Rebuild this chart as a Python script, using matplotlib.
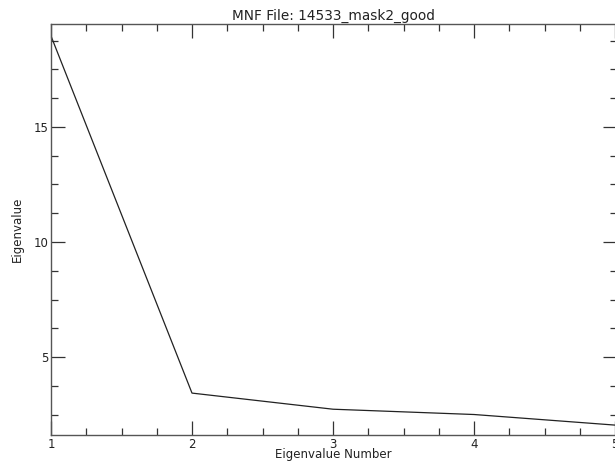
import numpy as np
import matplotlib.pyplot as plt
from matplotlib.ticker import MultipleLocator

# eigenvalues
eig_num = [1, 2, 3, 4, 5]
eig_val = [18.95, 3.44, 2.74, 2.51, 2.05]
title = "MNF File: 14533_mask2_good"

W, H = 615, 461
fig = plt.figure(figsize=(W / 100, H / 100), dpi=100)
left, right, top, bottom = 51, 616.5, 24, 435
ax = fig.add_axes([left / W, 1 - bottom / H, (right - left) / W, (bottom - top) / H])

ax.plot(eig_num, eig_val, color='#222222', linewidth=0.9)

ax.set_xlim(1, 5 + 1.5 / 141)
ax.set_ylim(1.62, 19.47)
ax.xaxis.set_major_locator(MultipleLocator(1))
ax.xaxis.set_minor_locator(MultipleLocator(0.25))
ax.yaxis.set_major_locator(MultipleLocator(5))
ax.yaxis.set_minor_locator(MultipleLocator(1.25))

ax.tick_params(which='both', direction='in', top=True, right=True,
               color='#333333', labelsize=8.5, pad=2, labelcolor='#222222')
ax.tick_params(which='major', length=10, width=0.9)
ax.tick_params(which='minor', length=5, width=0.9)
for s in ax.spines.values():
    s.set_color('#555555')
    s.set_linewidth(1.0)

ax.set_title(title, fontsize=9.8, color='#222222', pad=3)
ax.set_xlabel("Eigenvalue Number", fontsize=8.5, color='#222222', labelpad=-2)
ax.set_ylabel("Eigenvalue", fontsize=8.5, color='#222222', labelpad=7)

fig.savefig("out.png", dpi=100)
